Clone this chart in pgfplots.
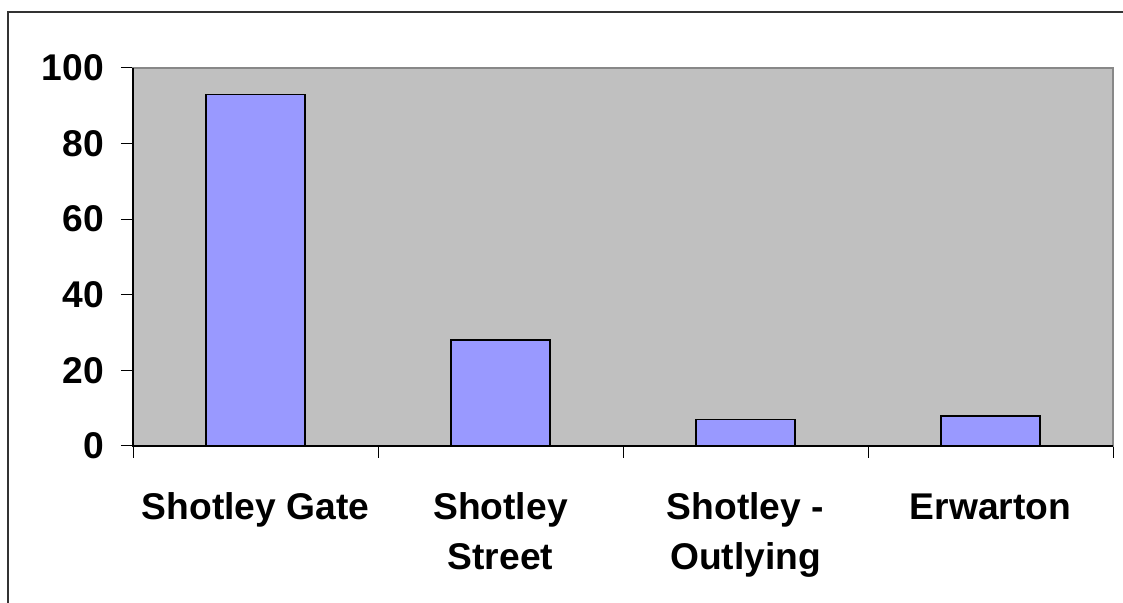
\documentclass[border=0pt]{standalone}
\usepackage{fontspec}
\setmainfont{Liberation Sans}
\usepackage{pgfplots}
\pgfplotsset{compat=1.18}
\definecolor{barfill}{HTML}{9999FF}
\definecolor{plotbg}{HTML}{C0C0C0}
\definecolor{frameg}{HTML}{888888}
\begin{document}
\begin{tikzpicture}
\useasboundingbox (0,0) rectangle (561.5pt,301.5pt);
\draw[line width=0.6pt, black!80] (4pt,-2pt) -- (4pt,295.5pt) -- (563pt,295.5pt);
\begin{axis}[
  at={(66.5pt,78.5pt)}, anchor=south west,
  scale only axis, width=490pt, height=189pt,
  xmin=-0.5, xmax=3.5, ymin=0, ymax=100,
  axis background/.style={fill=plotbg},
  axis line style={draw=frameg, line width=0.8pt},
  ytick={0,20,40,60,80,100},
  xtick={0,1,2,3},
  xticklabels={\strut Shotley Gate, \strut Shotley\\Street, \strut Shotley -\\Outlying, \strut Erwarton},
  minor xtick={-0.5,0.5,1.5,2.5,3.5},
  tick align=outside,
  major tick length=6pt, minor tick length=6pt,
  tick style={black, line width=0.5pt},
  x tick style={draw=none},
  minor x tick style={draw=black, line width=0.5pt},
  ytick pos=left, xtick pos=bottom,
  /pgf/number format/assume math mode=true,
  ticklabel style={font=\fontsize{18.6}{25}\selectfont\bfseries},
  yticklabel style={xshift=-5pt},
  xticklabel style={align=center, anchor=north, yshift=-9.5pt},
  clip=false,
]
\addplot[ybar, bar width=0.404, fill=barfill, draw=black, line width=0.8pt] coordinates {(0,93) (1,28) (2,7) (3,8)};
\draw[black, line width=0.6pt] (rel axis cs:0,1) -- (rel axis cs:0,0) -- (rel axis cs:1,0);
\end{axis}
\end{tikzpicture}
\end{document}
